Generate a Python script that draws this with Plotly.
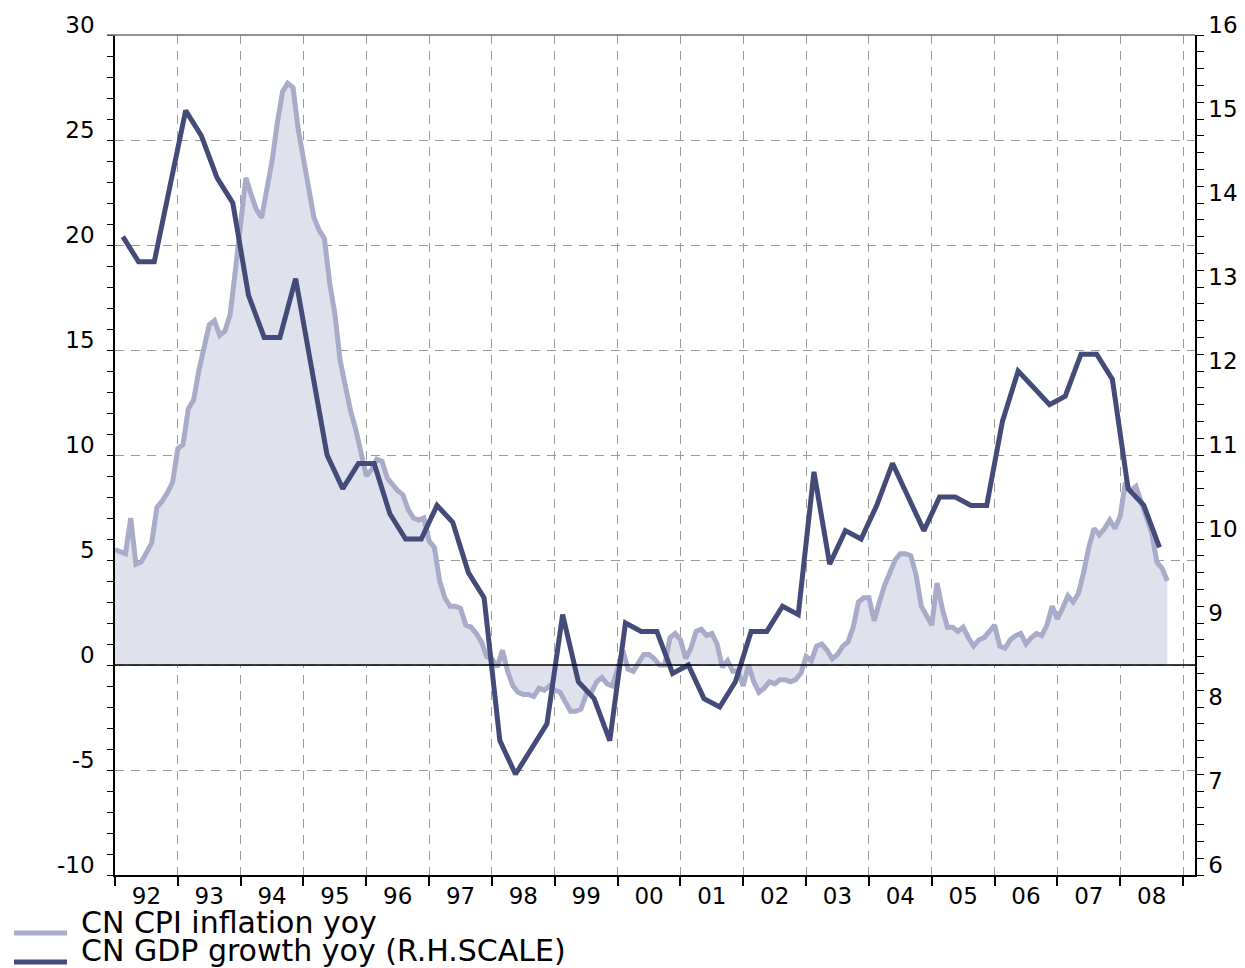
import numpy as np
import plotly.graph_objects as go

# ---- Data ----
# China CPI inflation, % y/y, monthly Jan-1992 .. Oct-2008 (left scale)
cpi_1992 = [5.5, 5.4, 5.3, 7.0, 4.8, 4.9, 5.3, 5.8, 7.5, 7.8, 8.2, 8.7]
cpi_1993 = [10.3, 10.5, 12.2, 12.6, 14.0, 15.1, 16.2, 16.4, 15.7, 15.9, 16.7, 18.8]
cpi_1994 = [21.1, 23.2, 22.4, 21.7, 21.3, 22.6, 24.0, 25.8, 27.3, 27.7, 27.5, 25.5]
cpi_1995 = [24.1, 22.4, 21.3, 20.7, 20.3, 18.2, 16.7, 14.5, 13.2, 12.1, 11.2, 10.1]
cpi_1996 = [9.0, 9.3, 9.8, 9.7, 8.9, 8.6, 8.3, 8.1, 7.4, 7.0, 6.9, 7.0]
cpi_1997 = [5.9, 5.6, 4.0, 3.2, 2.8, 2.8, 2.7, 1.9, 1.8, 1.5, 1.1, 0.4]
cpi_1998 = [0.3, -0.1, 0.7, -0.3, -1.0, -1.3, -1.4, -1.4, -1.5, -1.1, -1.2, -1.0]
cpi_1999 = [-1.2, -1.3, -1.8, -2.2, -2.2, -2.1, -1.4, -1.3, -0.8, -0.6, -0.9, -1.0]
cpi_2000 = [-0.2, 0.7, -0.2, -0.3, 0.1, 0.5, 0.5, 0.3, 0.0, 0.0, 1.3, 1.5]
cpi_2001 = [1.2, 0.3, 0.8, 1.6, 1.7, 1.4, 1.5, 1.0, -0.1, 0.2, -0.3, -0.3]
cpi_2002 = [-1.0, 0.0, -0.8, -1.3, -1.1, -0.8, -0.9, -0.7, -0.7, -0.8, -0.7, -0.4]
cpi_2003 = [0.4, 0.2, 0.9, 1.0, 0.7, 0.3, 0.5, 0.9, 1.1, 1.8, 3.0, 3.2]
cpi_2004 = [3.2, 2.1, 3.0, 3.8, 4.4, 5.0, 5.3, 5.3, 5.2, 4.3, 2.8, 2.4]
cpi_2005 = [1.9, 3.9, 2.7, 1.8, 1.8, 1.6, 1.8, 1.3, 0.9, 1.2, 1.3, 1.6]
cpi_2006 = [1.9, 0.9, 0.8, 1.2, 1.4, 1.5, 1.0, 1.3, 1.5, 1.4, 1.9, 2.8]
cpi_2007 = [2.2, 2.7, 3.3, 3.0, 3.4, 4.4, 5.6, 6.5, 6.2, 6.5, 6.9, 6.5]
cpi_2008 = [7.1, 8.7, 8.3, 8.5, 7.7, 7.1, 6.3, 4.9, 4.6, 4.0]

cpi = (cpi_1992 + cpi_1993 + cpi_1994 + cpi_1995 + cpi_1996 + cpi_1997 +
       cpi_1998 + cpi_1999 + cpi_2000 + cpi_2001 + cpi_2002 + cpi_2003 +
       cpi_2004 + cpi_2005 + cpi_2006 + cpi_2007 + cpi_2008)

# China GDP growth, % y/y, quarterly 1992Q1 .. 2008Q3 (right scale)
gdp_1992 = [13.6, 13.3, 13.3, 14.2]
gdp_1993 = [15.1, 14.8, 14.3, 14.0]
gdp_1994 = [12.9, 12.4, 12.4, 13.1]
gdp_1995 = [12.05, 11.0, 10.6, 10.9]
gdp_1996 = [10.9, 10.3, 10.0, 10.0]
gdp_1997 = [10.4, 10.2, 9.6, 9.3]
gdp_1998 = [7.6, 7.2, 7.5, 7.8]
gdp_1999 = [9.1, 8.3, 8.1, 7.6]
gdp_2000 = [9.0, 8.9, 8.9, 8.4]
gdp_2001 = [8.5, 8.1, 8.0, 8.3]
gdp_2002 = [8.9, 8.9, 9.2, 9.1]
gdp_2003 = [10.8, 9.7, 10.1, 10.0]
gdp_2004 = [10.4, 10.9, 10.5, 10.1]
gdp_2005 = [10.5, 10.5, 10.4, 10.4]
gdp_2006 = [11.4, 12.0, 11.8, 11.6]
gdp_2007 = [11.7, 12.2, 12.2, 11.9]
gdp_2008 = [10.6, 10.4, 9.9]

gdp = (gdp_1992 + gdp_1993 + gdp_1994 + gdp_1995 + gdp_1996 + gdp_1997 +
       gdp_1998 + gdp_1999 + gdp_2000 + gdp_2001 + gdp_2002 + gdp_2003 +
       gdp_2004 + gdp_2005 + gdp_2006 + gdp_2007 + gdp_2008)

year_labels = ["92", "93", "94", "95", "96", "97", "98", "99", "00",
               "01", "02", "03", "04", "05", "06", "07", "08"]
first_year = 1992

left_ticks = [-10, -5, 0, 5, 10, 15, 20, 25, 30]
right_ticks = [6, 7, 8, 9, 10, 11, 12, 13, 14, 15, 16]

cpi_name = "CN CPI inflation yoy"
gdp_name = "CN GDP growth yoy (R.H.SCALE)"

# time positions (fractional years)
cpi_x = first_year + np.arange(len(cpi)) / 12.0
gdp_x = first_year + 0.125 + 0.25 * np.arange(len(gdp))
label_pos = [first_year + 0.5 + i for i in range(len(year_labels))]
year_bounds = [first_year + i for i in range(len(year_labels) + 1)]

# ---- Styles ----
FONT = "DejaVu Sans, Liberation Sans, Arial, sans-serif"
TICK_SIZE = 23
LEG_SIZE = 30
CPI_LINE = "#a9abc9"
CPI_FILL = "#dfe1ec"
GDP_LINE = "#444b78"
GRID = "#9a9a9a"
GRID_DASH = "9px,7px"
LW = 5

# page body has an 8px default margin: size the figure so that it fits
OFF = 8
W, H = 1245 - OFF, 968 - OFF
PL, PT, PW, PH = 115, 35, 1080, 840   # plot area on the page

fig = go.Figure()
fig.add_trace(go.Scatter(
    x=cpi_x, y=cpi, mode="lines", name=cpi_name,
    line=dict(color=CPI_LINE, width=LW),
    fill="tozeroy", fillcolor=CPI_FILL, yaxis="y", showlegend=False))
fig.add_trace(go.Scatter(
    x=gdp_x, y=gdp, mode="lines", name=gdp_name,
    line=dict(color=GDP_LINE, width=LW), yaxis="y2", showlegend=False))

fig.update_layout(
    width=W, height=H,
    margin=dict(l=PL - OFF, r=W - (PL - OFF) - PW, t=PT - OFF,
                b=H - (PT - OFF) - PH, autoexpand=False),
    paper_bgcolor="white", plot_bgcolor="white",
    font=dict(family=FONT, size=TICK_SIZE, color="black"),
    xaxis=dict(
        range=[first_year, first_year + 17.19], automargin=False,
        tickmode="array", tickvals=label_pos, ticktext=year_labels,
        ticks="", showgrid=False, zeroline=False,
        showline=True, linecolor="black", linewidth=2,
        ticklabelstandoff=-1,
        tickfont=dict(size=TICK_SIZE, family=FONT),
        minor=dict(tickmode="array", tickvals=year_bounds, ticks="outside",
                   ticklen=9, tickwidth=1.5, tickcolor="black",
                   showgrid=True, gridcolor=GRID, griddash=GRID_DASH, gridwidth=1),
    ),
    yaxis=dict(
        range=[-10, 30], automargin=False,
        tickmode="array", tickvals=left_ticks,
        ticktext=[str(v) for v in left_ticks],
        showgrid=True, gridcolor=GRID, griddash=GRID_DASH, gridwidth=1,
        zeroline=False, showline=True, linecolor="black", linewidth=1.5,
        ticks="outside", ticklen=6, tickcolor="black", tickwidth=1,
        ticklabelshift=-10, ticklabelstandoff=8,
        tickfont=dict(size=TICK_SIZE, family=FONT),
        minor=dict(dtick=1, ticks="outside", ticklen=6, tickcolor="black",
                   showgrid=False),
    ),
    yaxis2=dict(
        range=[6, 16], automargin=False,
        tickmode="array", tickvals=right_ticks,
        ticktext=[str(v) for v in right_ticks],
        overlaying="y", side="right", anchor="x",
        showgrid=False, zeroline=False,
        showline=True, linecolor="black", linewidth=1.5,
        ticks="outside", ticklen=7, tickcolor="black", tickwidth=1,
        ticklabelshift=-10, ticklabelstandoff=0,
        tickfont=dict(size=TICK_SIZE, family=FONT),
        minor=dict(dtick=0.2, ticks="outside", ticklen=7, tickcolor="black",
                   showgrid=False),
    ),
)

# zero line and top border
fig.add_shape(type="line", xref="paper", yref="y", x0=0, x1=1, y0=0, y1=0,
              line=dict(color="black", width=1.5), layer="above")
fig.add_shape(type="line", xref="paper", yref="paper", x0=-8 / PW, x1=1,
              y0=1, y1=1, line=dict(color="#6e6e6e", width=1.5), layer="above")

# legend (bottom-left), positions given in page pixels
def px_x(p):
    return (p - PL) / PW

def px_y(p):
    return (PT + PH - p) / PH

for name, color, ly, ty in [(cpi_name, CPI_LINE, 933, 922),
                            (gdp_name, GDP_LINE, 962, 951)]:
    fig.add_shape(type="line", xref="paper", yref="paper",
                  x0=px_x(14), x1=px_x(67), y0=px_y(ly), y1=px_y(ly),
                  line=dict(color=color, width=LW))
    fig.add_annotation(text=name, xref="paper", yref="paper",
                       x=px_x(79), y=px_y(ty), xanchor="left", yanchor="middle",
                       showarrow=False,
                       font=dict(size=LEG_SIZE, family=FONT, color="black"))

fig.write_html("out.html")
